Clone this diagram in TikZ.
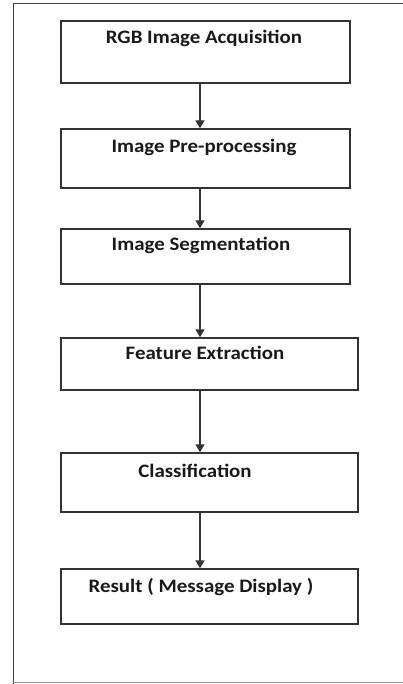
\documentclass[tikz,border=0pt]{standalone}
\usepackage{fontspec}
\setmainfont{Carlito}
\usetikzlibrary{arrows.meta,calc}
\newcommand{\widetext}[1]{\scalebox{1.1}[1]{#1}}
\begin{document}
\begin{tikzpicture}[x=1pt,y=-1pt,
  stage/.style={draw=black!80,line width=1.4pt,inner sep=0pt},
  caption/.style={font=\bfseries\fontsize{19}{22}\selectfont,text=black!90,inner sep=0pt,anchor=center},
  flow/.style={draw=black!80,line width=1.4pt,-{Triangle[width=9pt,length=8pt]}}]
\useasboundingbox (0,0) rectangle (403,684);
% outer frame (right side runs off the page)
\draw[black!75,line width=1pt] (13,684) -- (13,4) -- (410,4);
\draw[black!40,line width=1pt] (13,682) -- (410,682);
% stage boxes
\node[stage,minimum width=289,minimum height=62] (s1) at (205.5,52) {};
\node[stage,minimum width=289,minimum height=59] (s2) at (205.5,158.5) {};
\node[stage,minimum width=289,minimum height=55] (s3) at (205.5,256.5) {};
\node[stage,minimum width=297,minimum height=52] (s4) at (209.5,364) {};
\node[stage,minimum width=297,minimum height=59] (s5) at (209.5,482.5) {};
\node[stage,minimum width=297,minimum height=55] (s6) at (209.5,596.5) {};
% captions near the top of each box
\node[caption] (t1) at (204,38) {\widetext{RGB Image Acquisition}};
\node[caption] (t2) at (204,147) {\widetext{Image Pre-processing}};
\node[caption] (t3) at (201,245) {\widetext{Image Segmentation}};
\node[caption] (t4) at (205,353) {\widetext{Feature Extraction}};
\node[caption] (t5) at (195,471) {\widetext{Classification}};
\node[caption] (t6) at (201,587) {\widetext{Result ( Message Display )}};
% connectors
\coordinate (ax) at (200,0);
\draw[flow] (s1.south -| ax) -- (s2.north -| ax);
\draw[flow] (s2.south -| ax) -- (s3.north -| ax);
\draw[flow] (s3.south -| ax) -- (s4.north -| ax);
\draw[flow] (s4.south -| ax) -- (s5.north -| ax);
\draw[flow] (s5.south -| ax) -- (s6.north -| ax);
\end{tikzpicture}
\end{document}
